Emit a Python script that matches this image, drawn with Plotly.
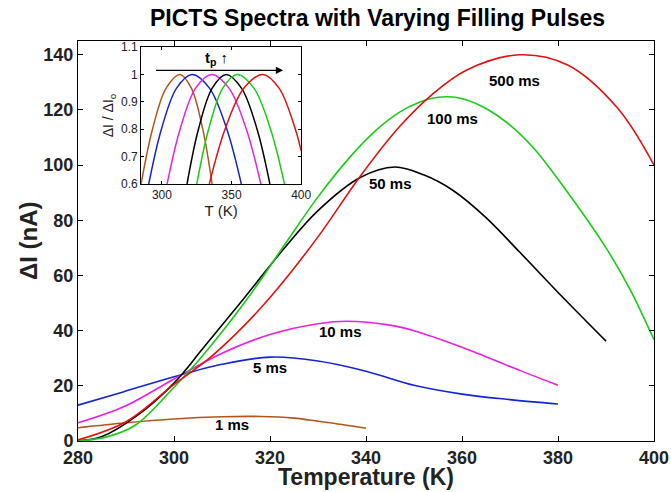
import plotly.graph_objects as go

# ---------------- main panel data (Temperature K, ΔI nA) ----------------
T_1ms = [280, 290, 300, 310, 318, 325, 330, 335, 340]
I_1ms = [4.8, 6.6, 8.0, 8.8, 8.9, 8.3, 7.2, 6.0, 4.6]

T_5ms = [280, 289.4, 300, 310, 320, 330, 340, 350, 360, 370, 380]
I_5ms = [13.0, 17.8, 23.3, 27.8, 30.4, 29.0, 25.3, 20.2, 17.0, 15.0, 13.4]

T_10ms = [280, 290, 300, 310, 320, 330, 336, 345, 350, 360, 372, 380]
I_10ms = [6.6, 12.8, 22.5, 31.8, 38.6, 42.5, 43.4, 42.0, 40.0, 34.0, 25.6, 20.2]

T_50ms = [280, 285, 292, 300, 306, 314, 322.8, 330, 338.8, 346, 352, 358, 365, 372, 381.6, 390]
I_50ms = [0.0, 1.6, 8.8, 21.0, 33.5, 50.5, 69.5, 83.5, 95.5, 99.3, 96.5, 91.0, 81.0, 68.5, 51.0, 36.2]

T_100ms = [280, 286, 292, 300, 306, 315, 322.8, 330, 336.7, 342, 347, 351, 355, 359, 364.5, 370, 375, 381, 390, 395, 400]
I_100ms = [0.0, 1.5, 5.8, 19.5, 31.0, 50.9, 70.5, 88.5, 103.0, 112.5, 119.2, 122.7, 124.6, 124.5, 121.0, 114.5, 106.0, 92.5, 70.0, 55.0, 36.7]

T_500ms = [280, 290, 300, 307, 313, 320, 330, 338.8, 347, 353.7, 361, 372, 382, 392.4, 400]
I_500ms = [0.4, 7.0, 20.5, 29.5, 39.0, 52.0, 74.0, 96.0, 114.0, 125.5, 134.5, 140.0, 136.3, 120.7, 100.0]

series_names = ["1 ms", "5 ms", "10 ms", "50 ms", "100 ms", "500 ms"]
series_T = [T_1ms, T_5ms, T_10ms, T_50ms, T_100ms, T_500ms]
series_I = [I_1ms, I_5ms, I_10ms, I_50ms, I_100ms, I_500ms]
colors = ["#b0561c", "#1424d2", "#ea1ee6", "#000000", "#16cc16", "#e31010"]

# label positions (T, ΔI)
label_T = [312, 320, 334.6, 345, 358, 371]
label_I = [6.1, 26.8, 39.7, 93.4, 117, 130.6]

# ---------------- inset data (normalized ΔI/ΔIo) ----------------
inset_T = [
    [285.0, 293.2, 303.0, 313.0, 321.1, 329.3, 336.0],
    [290.5, 299.6, 310.5, 321.5, 334.1, 346.6, 357.0],
    [303.7, 313.0, 324.2, 335.5, 348.1, 360.6, 371.0],
    [318.0, 326.2, 336.1, 346.0, 357.1, 368.3, 377.5],
    [325.0, 333.5, 343.7, 354.0, 366.0, 378.0, 388.0],
    [334.0, 345.3, 358.9, 372.5, 384.1, 395.8, 400.0],
]
inset_V = [
    [0.6, 0.8, 0.95, 1.0, 0.95, 0.8, 0.6],
    [0.6, 0.8, 0.95, 1.0, 0.95, 0.8, 0.6],
    [0.6, 0.8, 0.95, 1.0, 0.95, 0.8, 0.6],
    [0.6, 0.8, 0.95, 1.0, 0.95, 0.8, 0.6],
    [0.6, 0.8, 0.95, 1.0, 0.95, 0.8, 0.6],
    [0.6, 0.8, 0.95, 1.0, 0.95, 0.8, 0.72],
]

x_ticks = [280, 300, 320, 340, 360, 380, 400]
y_ticks = [0, 20, 40, 60, 80, 100, 120, 140]
inset_x_ticks = [300, 350, 400]
inset_y_ticks = [0.6, 0.7, 0.8, 0.9, 1.0, 1.1]

FONT = "Liberation Sans"
TXT = "#222222"

fig = go.Figure()
for name, T, I, c in zip(series_names, series_T, series_I, colors):
    fig.add_trace(go.Scatter(x=T, y=I, mode="lines", name=name,
                             line=dict(color=c, width=1.6, shape="spline", smoothing=1.0),
                             xaxis="x", yaxis="y", showlegend=False))

for T, V, c in zip(inset_T, inset_V, colors):
    fig.add_trace(go.Scatter(x=T, y=V, mode="lines",
                             line=dict(color=c, width=1.5, shape="spline", smoothing=1.0),
                             xaxis="x2", yaxis="y2", showlegend=False))

for name, lx, ly in zip(series_names, label_T, label_I):
    fig.add_annotation(x=lx, y=ly, xref="x", yref="y", text=f"<b>{name}</b>",
                       showarrow=False, font=dict(family=FONT, size=15, color="black"))

# inset arrow and t_p label
fig.add_annotation(x=387, y=1.015, ax=294.7, ay=1.015, xref="x2", yref="y2",
                   axref="x2", ayref="y2", text="", showarrow=True,
                   arrowhead=2, arrowsize=1.2, arrowwidth=1.2, arrowcolor="black")
fig.add_annotation(x=339, y=1.058, xref="x2", yref="y2", text="<b>t<sub>p</sub> ↑</b>",
                   showarrow=False, font=dict(family=FONT, size=15, color="black"))

# title
fig.add_annotation(x=0.52, y=1.0, xref="paper", yref="paper", yanchor="middle", yshift=23,
                   text="<b>PICTS Spectra with Varying Filling Pulses</b>",
                   showarrow=False, font=dict(family=FONT, size=23, color="black"))
# axis titles
fig.add_annotation(x=0.5, y=0.0, xref="paper", yref="paper", yanchor="bottom", yshift=-51,
                   text="<b>Temperature (K)</b>", showarrow=False,
                   font=dict(family=FONT, size=23, color=TXT))
fig.add_annotation(x=0.0, y=0.5, xref="paper", yref="paper", xanchor="center", xshift=-50,
                   text="<b>ΔI (nA)</b>", textangle=-90, showarrow=False,
                   font=dict(family=FONT, size=24, color=TXT))

axis_common = dict(showline=True, linecolor="black", linewidth=1, mirror="ticks",
                   ticks="inside", tickcolor="black", showgrid=False, zeroline=False,
                   automargin=False)

fig.update_layout(
    width=671, height=492,
    margin=dict(l=78, r=17, t=41, b=51),
    paper_bgcolor="white", plot_bgcolor="white",
    font=dict(family=FONT, color="black"),
    xaxis=dict(range=[280, 400], tickvals=x_ticks, ticklen=5,
               tickfont=dict(family=FONT, size=18, color=TXT, weight="bold"),
               domain=[0, 1], **axis_common),
    yaxis=dict(range=[0, 145], tickvals=y_ticks, ticklen=5,
               tickfont=dict(family=FONT, size=18, color=TXT, weight="bold"),
               domain=[0, 1], **axis_common),
    xaxis2=dict(range=[285, 400], tickvals=inset_x_ticks, ticklen=3,
                tickfont=dict(family=FONT, size=12, color=TXT),
                title=dict(text="T (K)", font=dict(family=FONT, size=15, color=TXT), standoff=2),
                domain=[0.1095, 0.3875], anchor="y2", **axis_common),
    yaxis2=dict(range=[0.6, 1.1], tickvals=inset_y_ticks, ticktext=["0.6", "0.7", "0.8", "0.9", "1", "1.1"],
                ticklen=3, tickfont=dict(family=FONT, size=12, color=TXT),
                title=dict(text="ΔI / ΔI<sub>o</sub>", font=dict(family=FONT, size=14, color=TXT), standoff=4),
                domain=[0.6425, 0.985], anchor="x2", **axis_common),
)

fig.write_html("out.html")
